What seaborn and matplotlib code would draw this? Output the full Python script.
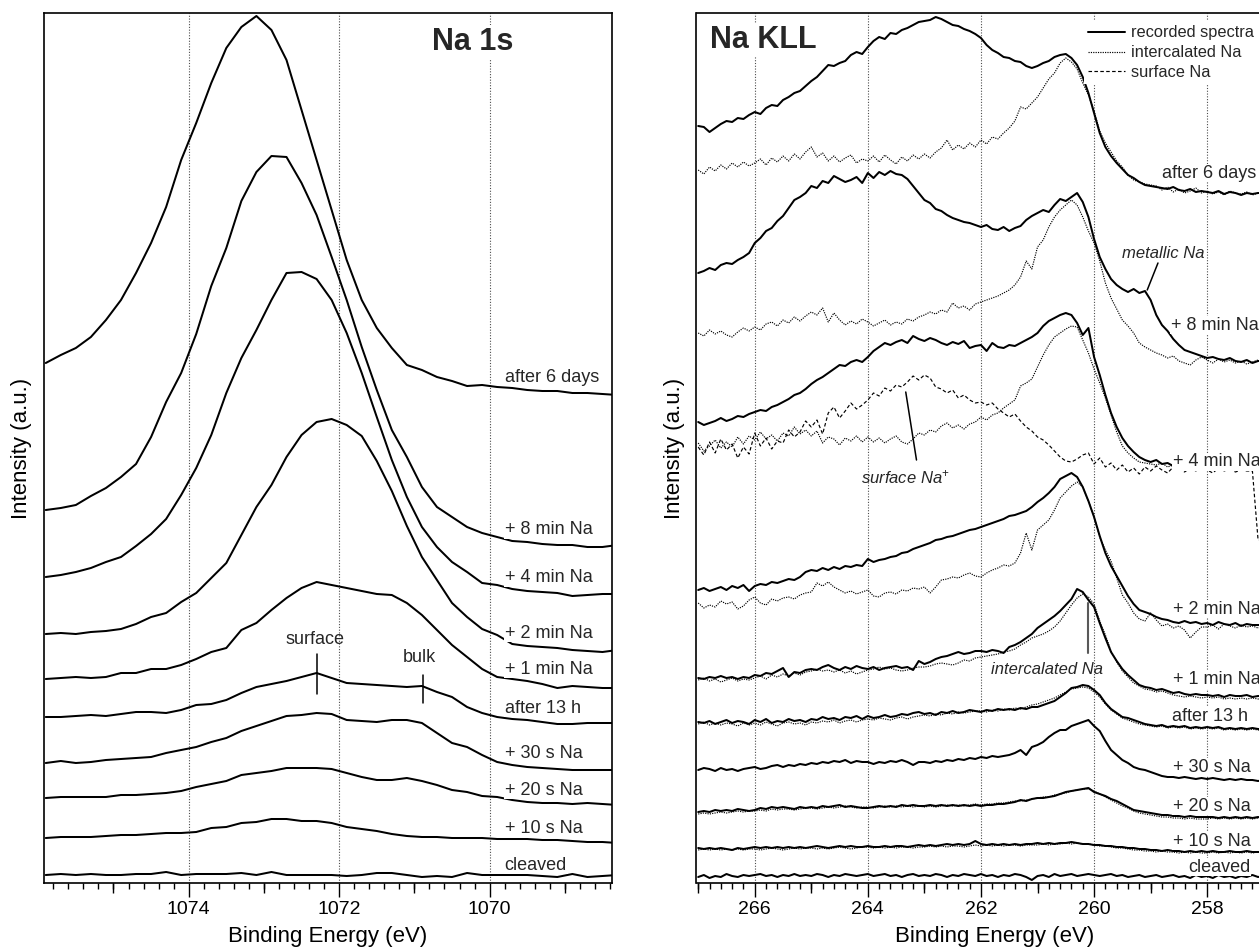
import numpy as np
import matplotlib
matplotlib.use("Agg")
import matplotlib.pyplot as plt
from matplotlib.lines import Line2D
from matplotlib.ticker import FixedLocator, MultipleLocator
import seaborn as sns

sns.set_theme(style="white")
plt.rcParams['font.family'] = ['Liberation Sans', 'DejaVu Sans']
plt.rcParams['mathtext.fontset'] = 'custom'
plt.rcParams['mathtext.rm'] = 'Liberation Sans'
plt.rcParams['mathtext.it'] = 'Liberation Sans:italic'

# ---------------- Na 1s data (binding energy grid, 0.2 eV) ----------------
na1s_energy = np.linspace(1075.9, 1068.3, 39)
na1s_labels = ["after 6 days", "+ 8 min Na", "+ 4 min Na", "+ 2 min Na", "+ 1 min Na",
               "after 13 h", "+ 30 s Na", "+ 20 s Na", "+ 10 s Na", "cleaved"]
na1s_6days = [520, 528, 535, 546, 563, 583, 610, 640, 676, 723, 760, 800, 835, 856, 867, 853, 823, 773, 723, 673,
              623, 583, 555, 535, 518, 513, 506, 502, 497, 498, 496, 495, 493, 492, 492, 490, 490, 489, 488]
na1s_8min = [373, 375, 378, 387, 395, 406, 419, 446, 481, 510, 549, 597, 635, 682, 711, 727, 726, 700, 668, 626,
             583, 536, 493, 453, 426, 396, 376, 366, 356, 350, 346, 342, 341, 339, 338, 338, 336, 336, 338]
na1s_4min = [306, 308, 311, 315, 321, 326, 337, 349, 364, 388, 415, 448, 490, 525, 553, 583, 610, 611, 604, 583,
             550, 510, 466, 423, 386, 356, 336, 321, 311, 300, 298, 294, 292, 291, 290, 287, 288, 289, 289]
na1s_2min = [249, 250, 249, 251, 252, 254, 259, 266, 270, 281, 290, 305, 320, 348, 376, 398, 426, 448, 461, 464,
             458, 447, 422, 392, 357, 326, 303, 280, 266, 254, 248, 239, 237, 236, 235, 233, 232, 231, 233]
na1s_1min = [204, 205, 206, 205, 206, 210, 210, 214, 214, 218, 224, 231, 235, 253, 260, 273, 285, 295, 301, 298,
             295, 292, 289, 288, 280, 268, 253, 238, 226, 214, 206, 204, 202, 199, 195, 197, 196, 195, 195]
na1s_13h = [166, 166, 167, 168, 167, 169, 171, 171, 170, 173, 178, 179, 183, 190, 196, 199, 202, 206, 210, 205,
            200, 199, 198, 197, 196, 197, 191, 186, 176, 170, 166, 164, 163, 161, 159, 159, 160, 160, 160]
na1s_30s = [120, 122, 120, 121, 123, 124, 125, 126, 130, 133, 136, 141, 145, 152, 157, 162, 167, 168, 170, 169,
            163, 162, 161, 163, 163, 160, 150, 140, 136, 128, 121, 118, 116, 115, 114, 113, 113, 113, 113]
na1s_20s = [85, 86, 86, 86, 86, 88, 88, 89, 90, 92, 96, 99, 102, 108, 110, 112, 115, 115, 115, 114,
            110, 106, 103, 103, 105, 102, 98, 93, 91, 87, 86, 83, 81, 80, 80, 79, 80, 79, 78]
na1s_10s = [45, 46, 46, 46, 47, 48, 48, 49, 50, 50, 51, 55, 56, 60, 61, 64, 64, 62, 62, 60,
            56, 54, 52, 49, 47, 46, 46, 45, 45, 45, 44, 44, 44, 43, 43, 42, 41, 41, 40]
na1s_cleaved = [8, 9, 8, 9, 8, 8, 9, 9, 11, 8, 9, 9, 9, 10, 8, 11, 8, 8, 8, 8,
                7, 8, 10, 10, 8, 6, 7, 6, 10, 8, 8, 8, 8, 7, 6, 9, 6, 7, 8]
na1s_label_level = [506, 353, 305, 250, 214, 175, 130, 93, 55, 18]

# ---------------- Na KLL data (0.1 eV grid) ----------------
kll_energy = np.linspace(267.0, 256.6, 105)
kll_labels = na1s_labels
kll_6days = [757, 756, 751, 755, 759, 762, 761, 765, 764, 768, 771, 769, 775, 778, 777, 783, 786, 790, 792, 797,
             802, 806, 812, 818, 817, 820, 822, 828, 831, 829, 836, 842, 846, 844, 850, 849, 853, 855, 858, 861,
             862, 863, 866, 864, 861, 858, 857, 854, 852, 849, 845, 838, 833, 830, 826, 825, 822, 821, 817, 815,
             817, 820, 822, 826, 828, 829, 825, 818, 806, 790, 770, 750, 736, 727, 720, 714, 708, 705, 701, 698,
             697, 696, 695, 694, 696, 693, 692, 694, 691, 692, 691, 690, 692, 689, 691, 690, 688, 690, 689, 690,
             690, 689, 690, 690, 689]
kll_6days_intercalated = [713, 709, 716, 712, 718, 714, 720, 716, 721, 717, 720, 724, 718, 725, 721, 727, 722, 729, 724, 731,
                          736, 726, 730, 722, 727, 721, 725, 728, 720, 724, 722, 727, 721, 728, 723, 719, 726, 722, 728, 724,
                          729, 725, 731, 735, 743, 733, 738, 734, 740, 736, 743, 739, 746, 744, 750, 755, 762, 776, 774, 780,
                          786, 795, 804, 810, 820, 825, 821, 814, 800, 788, 772, 752, 740, 731, 722, 716, 708, 703, 701, 699,
                          698, 697, 693, 696, 691, 694, 690, 692, 695, 690, 692, 689, 691, 688, 692, 690, 689, 691, 688, 690,
                          690, 689, 691, 690, 689]
kll_8min = [610, 612, 615, 613, 618, 620, 619, 623, 626, 630, 640, 645, 652, 655, 662, 667, 675, 683, 686, 690,
            697, 695, 702, 700, 707, 704, 701, 703, 706, 700, 710, 705, 711, 708, 712, 709, 708, 704, 697, 690,
            683, 680, 674, 672, 668, 665, 663, 661, 660, 658, 656, 658, 654, 653, 656, 652, 655, 657, 663, 667,
            670, 673, 671, 678, 684, 682, 686, 690, 681, 666, 644, 626, 614, 604, 598, 594, 591, 594, 590, 592,
            583, 568, 558, 552, 544, 538, 533, 531, 529, 527, 525, 526, 524, 523, 525, 522, 521, 523, 520, 522,
            522, 521, 523, 522, 521]
kll_8min_intercalated = [550, 547, 553, 549, 552, 548, 546, 551, 555, 552, 556, 553, 559, 561, 557, 563, 560, 566, 562, 567,
                         571, 568, 575, 561, 570, 563, 558, 562, 559, 564, 561, 557, 560, 563, 558, 561, 559, 564, 562, 566,
                         568, 571, 569, 573, 571, 580, 575, 577, 573, 579, 581, 583, 585, 587, 590, 593, 598, 606, 622, 614,
                         636, 643, 656, 666, 673, 678, 683, 678, 666, 652, 640, 622, 600, 585, 574, 563, 557, 550, 540, 536,
                         533, 530, 528, 525, 527, 522, 520, 518, 523, 526, 523, 520, 524, 521, 523, 520, 522, 519, 521, 523,
                         521, 522, 520, 522, 521]
kll_4min = [461, 458, 460, 462, 465, 462, 464, 467, 466, 469, 471, 473, 472, 476, 478, 481, 484, 488, 490, 494,
            499, 503, 506, 510, 514, 518, 517, 521, 523, 521, 526, 532, 536, 540, 538, 541, 543, 540, 547, 544,
            542, 545, 543, 540, 538, 541, 539, 542, 535, 537, 538, 532, 540, 536, 535, 538, 537, 540, 543, 546,
            550, 557, 562, 565, 568, 570, 568, 560, 548, 555, 526, 508, 488, 470, 456, 445, 437, 431, 426, 423,
            421, 423, 419, 420, 417, 418, 415, 417, 414, 416, 415, 413, 416, 414, 417, 413, 415, 414, 416, 413,
            415, 414, 416, 414, 415]
kll_4min_intercalated = [440, 432, 437, 443, 435, 441, 436, 446, 439, 447, 443, 451, 444, 448, 442, 450, 447, 456, 449, 453,
                         447, 452, 440, 446, 444, 438, 445, 442, 447, 441, 446, 441, 445, 440, 444, 447, 441, 439, 444, 450,
                         448, 453, 451, 457, 460, 455, 458, 454, 459, 461, 466, 463, 468, 470, 475, 479, 483, 497, 500, 504,
                         516, 528, 538, 546, 550, 554, 557, 556, 543, 530, 514, 500, 485, 468, 451, 437, 430, 425, 421, 420,
                         419, 418, 420, 416, 418, 413, 416, 418, 414, 416, 415, 417, 413, 416, 414, 417, 415, 413, 416, 414,
                         415, 416, 414, 415, 416]
kll_4min_surface = [436, 428, 441, 430, 444, 433, 439, 425, 436, 429, 450, 437, 445, 434, 442, 440, 453, 446, 451, 462,
                    456, 463, 449, 470, 476, 465, 472, 480, 474, 478, 483, 490, 487, 495, 492, 498, 496, 501, 507, 503,
                    508, 505, 496, 494, 490, 493, 485, 488, 483, 480, 481, 478, 480, 474, 470, 466, 469, 462, 456, 452,
                    446, 443, 438, 432, 426, 422, 421, 424, 428, 430, 419, 425, 416, 420, 413, 418, 411, 415, 409, 416,
                    412, 417, 413, 410, 416, 414, 411, 415, 412, 416, 413, 410, 415, 412, 414, 411, 413, 412, 412, 343,
                    343, 343, 343, 343, 343]
kll_2min = [293, 295, 292, 294, 296, 293, 297, 295, 298, 292, 297, 299, 298, 301, 300, 302, 304, 303, 306, 311,
            313, 312, 315, 313, 316, 314, 317, 316, 318, 317, 324, 321, 323, 324, 326, 327, 330, 331, 334, 336,
            338, 340, 343, 344, 346, 347, 349, 351, 353, 354, 356, 358, 360, 362, 364, 367, 368, 370, 372, 376,
            381, 385, 390, 396, 404, 407, 410, 406, 396, 382, 366, 347, 330, 317, 307, 297, 287, 279, 273, 271,
            269, 266, 264, 263, 261, 260, 262, 260, 261, 259, 260, 258, 261, 259, 258, 260, 257, 259, 258, 258,
            258, 259, 257, 258, 258]
kll_2min_intercalated = [280, 275, 278, 276, 282, 279, 281, 274, 277, 283, 286, 280, 278, 284, 282, 285, 286, 284, 288, 290,
                         291, 300, 297, 301, 296, 293, 290, 292, 289, 291, 293, 287, 286, 290, 291, 289, 293, 292, 295, 294,
                         296, 290, 296, 303, 304, 306, 305, 308, 310, 307, 306, 310, 313, 315, 318, 317, 320, 330, 350, 333,
                         353, 358, 363, 373, 385, 391, 397, 401, 396, 382, 366, 346, 333, 322, 305, 288, 280, 270, 264, 262,
                         270, 263, 257, 259, 255, 257, 253, 245, 251, 256, 256, 258, 254, 259, 257, 255, 258, 256, 257, 255,
                         256, 257, 255, 256, 257]
kll_1min = [205, 204, 206, 205, 207, 205, 206, 204, 206, 205, 208, 207, 210, 209, 212, 215, 206, 211, 210, 213,
            214, 213, 216, 218, 215, 213, 216, 214, 217, 215, 214, 216, 213, 215, 216, 217, 215, 216, 213, 222,
            219, 221, 224, 226, 227, 229, 231, 229, 230, 232, 232, 231, 233, 232, 230, 236, 238, 241, 245, 249,
            255, 259, 263, 267, 272, 278, 284, 294, 291, 283, 276, 260, 245, 231, 222, 214, 208, 203, 198, 196,
            195, 193, 194, 192, 190, 191, 189, 188, 189, 188, 188, 187, 188, 186, 188, 187, 187, 188, 186, 187,
            187, 186, 188, 187, 187]
kll_1min_intercalated = [203, 205, 202, 204, 201, 203, 205, 202, 204, 203, 205, 207, 204, 208, 206, 209, 207, 210, 208, 211,
                         212, 214, 212, 213, 211, 213, 210, 212, 209, 211, 213, 214, 216, 214, 215, 213, 212, 213, 215, 216,
                         216, 217, 219, 220, 219, 218, 220, 223, 222, 225, 226, 227, 228, 229, 231, 232, 234, 238, 241, 245,
                         247, 249, 252, 256, 262, 270, 278, 285, 289, 286, 279, 262, 248, 232, 221, 212, 206, 200, 197, 194,
                         193, 191, 192, 190, 188, 187, 186, 187, 186, 185, 186, 185, 186, 184, 185, 184, 185, 184, 185, 184,
                         184, 185, 184, 185, 184]
kll_13h = [161, 160, 162, 159, 161, 163, 160, 162, 161, 159, 163, 161, 164, 160, 162, 161, 164, 162, 163, 161,
           164, 163, 166, 164, 165, 163, 166, 165, 167, 164, 167, 165, 166, 168, 166, 167, 169, 168, 170, 171,
           169, 170, 168, 171, 170, 172, 170, 171, 173, 172, 171, 173, 172, 174, 173, 174, 173, 175, 174, 176,
           176, 178, 180, 182, 186, 190, 195, 196, 198, 197, 193, 188, 180, 174, 170, 166, 165, 163, 161, 159,
           158, 157, 158, 156, 157, 156, 157, 155, 156, 155, 156, 155, 156, 154, 155, 154, 155, 154, 155, 154,
           154, 155, 154, 155, 154]
kll_13h_intercalated = [159, 161, 158, 160, 158, 160, 159, 157, 160, 158, 160, 158, 161, 159, 157, 160, 161, 159, 160, 158,
                        161, 160, 162, 161, 163, 160, 162, 163, 161, 163, 164, 163, 165, 164, 163, 165, 166, 164, 166, 167,
                        168, 167, 169, 168, 170, 169, 171, 170, 171, 172, 172, 171, 173, 172, 174, 173, 175, 174, 176, 178,
                        179, 181, 183, 185, 188, 191, 194, 195, 196, 195, 191, 186, 179, 173, 169, 165, 163, 161, 159, 158,
                        157, 156, 157, 155, 156, 155, 156, 154, 155, 154, 155, 154, 155, 153, 154, 153, 154, 153, 154, 153,
                        153, 154, 153, 154, 153]
kll_30s = [113, 115, 114, 112, 115, 113, 114, 112, 114, 115, 116, 114, 115, 117, 118, 116, 118, 117, 119, 118,
           120, 119, 121, 120, 122, 121, 123, 120, 122, 121, 121, 119, 121, 120, 122, 121, 123, 121, 118, 121,
           121, 120, 122, 121, 123, 122, 124, 123, 125, 124, 126, 125, 127, 126, 127, 128, 130, 133, 128, 136,
           138, 141, 146, 150, 153, 153, 157, 159, 161, 163, 157, 152, 142, 133, 128, 123, 120, 116, 114, 113,
           111, 109, 107, 106, 106, 105, 106, 105, 104, 105, 104, 105, 104, 103, 104, 103, 104, 103, 103, 102,
           103, 102, 103, 102, 103]
kll_20s = [71, 72, 71, 73, 72, 73, 72, 74, 73, 72, 73, 75, 74, 76, 75, 76, 75, 74, 76, 75,
           76, 75, 77, 76, 77, 78, 76, 77, 76, 75, 75, 76, 77, 76, 77, 76, 78, 77, 78, 77,
           77, 78, 77, 78, 77, 78, 77, 78, 77, 78, 77, 78, 78, 79, 79, 80, 81, 83, 82, 84,
           85, 85, 86, 87, 89, 91, 92, 93, 94, 95, 91, 89, 87, 84, 82, 79, 76, 73, 72, 71,
           70, 69, 68, 68, 67, 67, 66, 67, 66, 66, 66, 66, 65, 66, 65, 66, 65, 66, 65, 66,
           65, 66, 65, 66, 65]
kll_20s_intercalated = [69, 70, 69, 70, 71, 70, 71, 72, 71, 72, 72, 73, 72, 74, 73, 74, 74, 73, 74, 75,
                        75, 74, 75, 76, 75, 76, 77, 76, 75, 76, 76, 75, 76, 77, 76, 77, 76, 77, 76, 77,
                        76, 77, 76, 77, 78, 77, 78, 77, 78, 79, 78, 79, 79, 80, 80, 81, 82, 82, 83, 84,
                        85, 86, 86, 88, 89, 90, 92, 93, 94, 94, 92, 89, 86, 83, 80, 77, 75, 72, 70, 69,
                        68, 67, 66, 66, 65, 65, 64, 65, 64, 64, 64, 65, 64, 65, 64, 65, 64, 65, 64, 65,
                        64, 65, 64, 65, 64]
kll_10s = [35, 34, 35, 34, 35, 34, 33, 35, 34, 35, 36, 35, 36, 35, 36, 35, 36, 35, 36, 35,
           36, 37, 36, 35, 36, 37, 36, 37, 36, 36, 37, 36, 36, 37, 36, 37, 37, 36, 37, 38,
           37, 38, 37, 38, 39, 38, 39, 38, 39, 42, 39, 38, 39, 38, 39, 38, 39, 38, 39, 39,
           40, 39, 40, 39, 40, 40, 41, 40, 39, 39, 38, 38, 37, 37, 36, 36, 35, 35, 34, 34,
           33, 33, 32, 33, 32, 32, 31, 32, 31, 32, 31, 32, 31, 31, 32, 31, 31, 32, 31, 31,
           31, 32, 31, 31, 32]
kll_10s_intercalated = [33, 34, 33, 34, 33, 34, 33, 34, 33, 34, 34, 33, 34, 35, 34, 33, 34, 35, 34, 35,
                        35, 34, 35, 34, 35, 36, 35, 34, 35, 36, 36, 35, 36, 35, 36, 35, 36, 36, 35, 36,
                        36, 37, 36, 37, 36, 37, 37, 36, 37, 38, 37, 38, 37, 38, 37, 38, 38, 37, 38, 38,
                        38, 39, 38, 39, 39, 40, 39, 40, 39, 39, 38, 37, 37, 36, 35, 35, 34, 33, 33, 32,
                        32, 31, 32, 31, 31, 30, 31, 30, 31, 30, 30, 31, 30, 31, 30, 31, 30, 31, 30, 31,
                        30, 31, 30, 31, 30]
kll_cleaved = [6, 8, 5, 7, 6, 9, 7, 6, 8, 7, 8, 9, 7, 8, 6, 8, 7, 9, 7, 8,
               7, 9, 8, 6, 8, 7, 9, 8, 7, 8, 9, 7, 8, 9, 7, 8, 6, 8, 9, 7,
               8, 7, 9, 8, 6, 8, 7, 9, 8, 7, 9, 7, 8, 6, 8, 7, 9, 8, 6, 3,
               7, 8, 6, 9, 7, 8, 9, 7, 8, 9, 8, 7, 8, 9, 7, 8, 6, 7, 8, 6,
               7, 8, 6, 7, 8, 6, 7, 5, 8, 6, 7, 5, 8, 6, 7, 5, 7, 6, 8, 6,
               7, 6, 7, 5, 7]
kll_label_level = [710, 558, 421, 274, 203, 167, 116, 77, 42, 16]

# ---------------- figure ----------------
W, H = 1259, 947
fig = plt.figure(figsize=(W / 100, H / 100), dpi=100)
ax1 = fig.add_axes([43.5 / W, 64 / H, 568 / W, 870 / H])
ax2 = fig.add_axes([696.5 / W, 64 / H, 595.5 / W, 870 / H])

SOLID = dict(color='black', linewidth=1.45)
DOTTED = dict(color='black', linewidth=0.85, linestyle=(0, (1, 1)))
DASHED = dict(color='black', linewidth=0.85, linestyle=(0, (3, 2)))
LABEL_BOX = dict(boxstyle='square,pad=0.05', fc='white', ec='none')
POINTER = dict(color='black', lw=1.1, zorder=4)


def draw(ax, x, y, kws):
    sns.lineplot(x=x, y=y, ax=ax, estimator=None, sort=False, legend=False, zorder=3, **kws)


def style_axis(ax, xlim, even, odd):
    ax.set_xlim(*xlim)
    ax.set_ylim(0, 870)
    ax.set_yticks([])
    ax.xaxis.set_major_locator(FixedLocator(even))
    ax.xaxis.set_minor_locator(MultipleLocator(0.2))
    ax.tick_params(axis='x', which='major', bottom=True, direction='out', length=10, width=1,
                   color='black', labelsize=14, labelcolor='black', pad=3)
    ax.tick_params(axis='x', which='minor', bottom=True, direction='out', length=4.5, width=1, color='black')
    sec = ax.secondary_xaxis('bottom')
    sec.xaxis.set_major_locator(FixedLocator(odd))
    sec.tick_params(axis='x', which='major', bottom=True, direction='out', length=7, width=1,
                    color='black', labelbottom=False)
    sec.spines['bottom'].set_visible(False)
    for s in ax.spines.values():
        s.set_color('black')
        s.set_linewidth(1.2)
    for t in even:
        ax.axvline(t, color='0.3', lw=0.8, ls=(0, (1, 1.5)), zorder=1)
    ax.set_xlabel('Binding Energy (eV)', fontsize=16, labelpad=5.5, color='black')
    ax.set_ylabel('Intensity (a.u.)', fontsize=16, labelpad=8, color='black')


# ----- left panel: Na 1s -----
style_axis(ax1, (1075.93, 1068.38), [1074, 1072, 1070], [1075, 1073, 1071, 1069])
na1s_series = [na1s_6days, na1s_8min, na1s_4min, na1s_2min, na1s_1min,
               na1s_13h, na1s_30s, na1s_20s, na1s_10s, na1s_cleaved]
for ys in na1s_series:
    draw(ax1, na1s_energy, ys, SOLID)
for lab, lev in zip(na1s_labels, na1s_label_level):
    ax1.text(1069.80, lev, lab, fontsize=13, ha='left', va='center', bbox=LABEL_BOX, zorder=5)
ax1.text(1070.22, 841, 'Na 1s', fontsize=22, fontweight='bold', ha='center', va='center',
         bbox=LABEL_BOX, zorder=5)
ax1.text(1072.32, 243, 'surface', fontsize=13, ha='center', va='center')
ax1.plot([1072.29, 1072.29], [189, 229], **POINTER)
ax1.text(1070.93, 225, 'bulk', fontsize=13, ha='center', va='center')
ax1.plot([1070.89, 1070.89], [180, 208], **POINTER)

# ----- right panel: Na KLL -----
style_axis(ax2, (267.03, 256.5), [266, 264, 262, 260, 258], [267, 265, 263, 261, 259, 257])
kll_solid = [kll_6days, kll_8min, kll_4min, kll_2min, kll_1min,
             kll_13h, kll_30s, kll_20s, kll_10s, kll_cleaved]
kll_dotted = [kll_6days_intercalated, kll_8min_intercalated, kll_4min_intercalated,
              kll_2min_intercalated, kll_1min_intercalated, kll_13h_intercalated,
              kll_20s_intercalated, kll_10s_intercalated]
for ys in kll_dotted:
    draw(ax2, kll_energy, ys, DOTTED)
draw(ax2, kll_energy, kll_4min_surface, DASHED)
for ys in kll_solid:
    draw(ax2, kll_energy, ys, SOLID)

kll_label_x = [258.80, 258.64, 258.60, 258.60, 258.60, 258.62, 258.60, 258.60, 258.60, 258.34]
for lab, lev, xe in zip(kll_labels, kll_label_level, kll_label_x):
    ax2.text(xe, lev, lab, fontsize=13, ha='left', va='center', bbox=LABEL_BOX, zorder=5)
ax2.text(266.79, 843, 'Na KLL', fontsize=22, fontweight='bold', ha='left', va='center',
         bbox=LABEL_BOX, zorder=5)

ax2.text(258.77, 630, 'metallic Na', fontsize=12, style='italic', ha='center', va='center')
ax2.plot([258.87, 259.06], [620, 593], **POINTER)
ax2.text(263.34, 406, 'surface Na$^{+}$', fontsize=12, style='italic', ha='center', va='center')
ax2.plot([263.33, 263.14], [491, 423], **POINTER)
ax2.text(260.83, 213, 'intercalated Na', fontsize=12, style='italic', ha='center', va='center')
ax2.plot([260.11, 260.11], [230, 280], color='0.35', lw=1.5, zorder=4)

legend_handles = [Line2D([], [], **SOLID), Line2D([], [], **DOTTED), Line2D([], [], **DASHED)]
ax2.legend(legend_handles, ['recorded spectra', 'intercalated Na', 'surface Na'],
           loc='upper left', bbox_to_anchor=(0.6507, 0.9905), fontsize=11.8, frameon=True,
           framealpha=1, facecolor='white', edgecolor='none', fancybox=False,
           handlelength=2.25, handletextpad=0.35, labelspacing=0.3, borderpad=0.25,
           borderaxespad=0)

fig.savefig('out.png', dpi=100)
